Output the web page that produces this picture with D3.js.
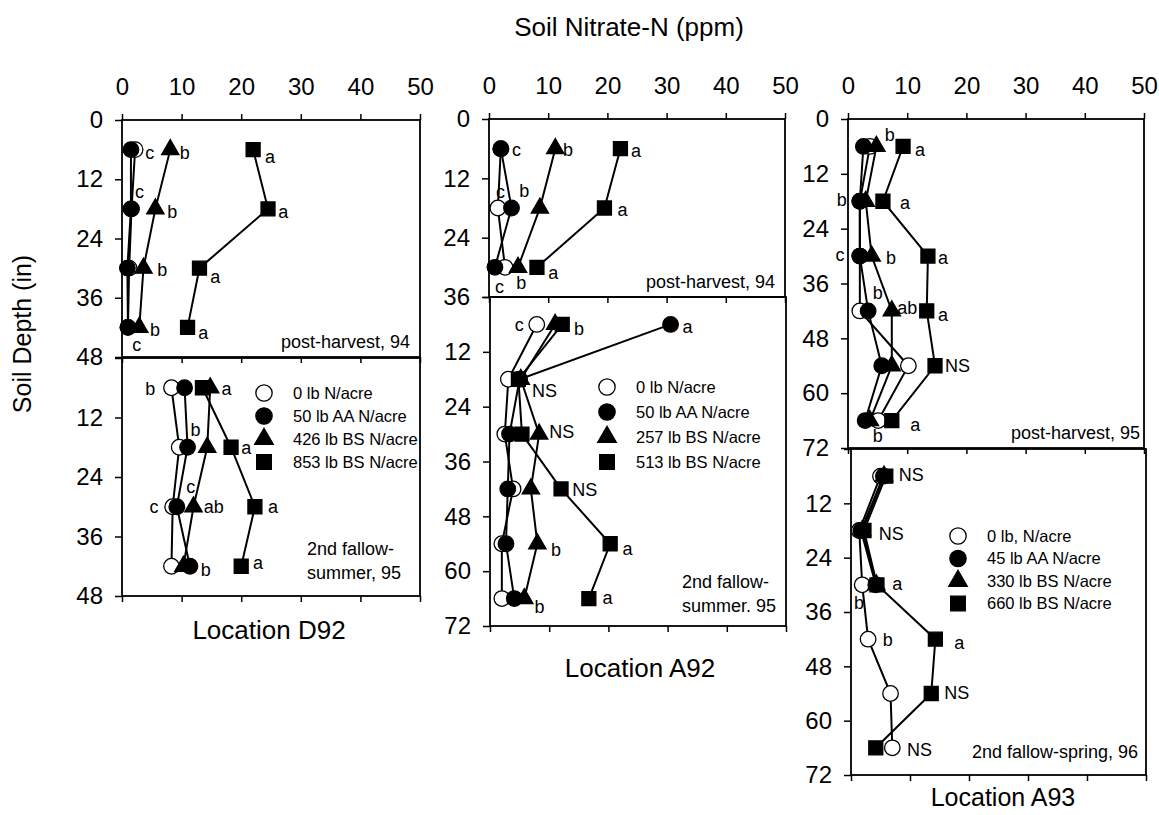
<!DOCTYPE html>
<html>
<head>
<meta charset="utf-8">
<script src="https://cdn.jsdelivr.net/npm/d3@7"></script>
<style>
  body { margin: 0; background: #fff; }
  text { font-family: "Liberation Sans", Arial, sans-serif; fill: #000; }
</style>
</head>
<body>
<svg id="chart" width="1159" height="815"></svg>
<script>
// depths (in) of the samples
const depth4 = [6, 18, 30, 42];
const depth3 = [6, 18, 30];
const depth6 = [6, 18, 30, 42, 54, 66];
const xTicks = [0, 10, 20, 30, 40, 50];

// nitrate-N (ppm) per treatment: [0 lb, AA, low BS, high BS]
const d92Harvest94 = [
  [2.2, 1.6, 1.2, 1.0],
  [1.5, 1.5, 0.9, 1.0],
  [8.1, 5.6, 3.6, 2.9],
  [22, 24.5, 13, 11]
];
const d92Summer95 = [
  [8.3, 9.6, 8.5, 8.3],
  [10.5, 11, 9.2, 11.4],
  [14.8, 14.3, 12, 10.3],
  [13.5, 18.3, 22.3, 20]
];
const a92Harvest94 = [
  [2.0, 1.5, 2.7],
  [2.0, 3.8, 1.0],
  [11.2, 8.6, 4.9],
  [22.2, 19.5, 8.1]
];
const a92Summer95 = [
  [7.9, 3.1, 2.5, 3.9, 2.0, 2.0],
  [30.5, 5.0, 3.3, 3.0, 2.7, 4.1],
  [11, 5.2, 8.3, 6.9, 8, 5.8],
  [12.2, 4.8, 5.4, 12, 20.3, 16.7]
];
const a93Harvest95 = [
  [3.7, 2.0, 2.0, 2.0, 10.2, 5.1],
  [2.6, 2.0, 2.0, 3.4, 5.7, 2.9],
  [4.8, 3.0, 4.0, 7.4, 7.4, 3.7],
  [9.3, 5.9, 13.5, 13.3, 14.7, 7.4]
];
const a93Spring96 = [
  [5.0, 1.4, 1.9, 2.9, 6.7, 7.0],
  [5.5, 1.7, 4.2, null, null, null],
  [5.6, 1.9, 4.3, null, null, null],
  [5.9, 2.2, 4.4, 14.3, 13.6, 4.2]
];

// significance letters: [ppm, depth, text]
const lettersD92a = [[3.9, 6.7, "c"], [9.7, 6.7, "b"], [24, 7.5, "a"], [2.2, 14.6, "c"], [7.6, 18.6, "b"],
  [26.2, 18.6, "a"], [5.9, 30.4, "b"], [14.8, 31.8, "a"], [4.7, 42.5, "b"], [12.8, 43, "a"], [1.7, 45.5, "c"]];
const lettersD92b = [[3.9, 6.2, "b"], [16.7, 6.2, "a"], [11.5, 14.5, "b"], [20, 18, "a"], [10.8, 26, "c"],
  [4.6, 30, "c"], [13.7, 30, "ab"], [24.5, 30, "a"], [22, 41.3, "a"], [13.2, 42.7, "b"]];
const lettersA92a = [[3.9, 6.3, "c"], [12.5, 6.3, "b"], [24, 6.5, "a"], [1.2, 14.8, "c"], [5.1, 14.4, "b"],
  [21.7, 18.4, "a"], [10, 31, "a"], [1, 34, "c"], [4.6, 33.2, "b"]];
const lettersA92b = [[4.2, 6.1, "c"], [14.2, 7, "b"], [32.5, 6.6, "a"], [7.1, 20.4, "NS"], [10, 29.5, "NS"],
  [13.9, 42.2, "NS"], [10.3, 55.4, "b"], [22.4, 55, "a"], [7.5, 67.8, "b"], [19, 65.9, "a"]];
const lettersA93a = [[6.2, 3.5, "b"], [11.3, 6.8, "a"], [-1.9, 17.7, "b"], [8.8, 18.3, "a"], [-2.1, 29.8, "c"],
  [6.4, 30.4, "b"], [15.2, 30.4, "a"], [4.2, 38, "b"], [8.3, 41.4, "ab"], [15.2, 42.9, "a"],
  [16.4, 54, "NS"], [10.5, 67, "a"], [4.2, 69.4, "b"]];
const lettersA93b = [[8.1, 5.7, "NS"], [4.7, 18.8, "NS"], [7, 29.8, "a"], [0.5, 34, "b"], [5.4, 42.2, "b"],
  [17.5, 42.8, "a"], [15.8, 53.9, "NS"], [9.5, 66.4, "NS"]];

const legendD92 = ["0 lb N/acre", "50 lb AA N/acre", "426 lb BS N/acre", "853 lb BS N/acre"];
const legendA92 = ["0 lb N/acre", "50 lb AA N/acre", "257 lb BS N/acre", "513 lb BS N/acre"];
const legendA93 = ["0 lb, N/acre", "45 lb AA N/acre", "330 lb BS N/acre", "660 lb BS N/acre"];

// marker styles per treatment
const symType = [d3.symbolCircle, d3.symbolCircle, d3.symbolTriangle, d3.symbolSquare];
const symSize = [190, 190, 130, 195];
const symFill = ["#fff", "#000", "#000", "#000"];

const svg = d3.select("#chart");

const panels = [
  { data: d92Harvest94, depths: depth4, maxD: 48, box: [122, 420, 120, 357], top: true,
    letters: lettersD92a, note: ["post-harvest, 94"], noteX: 410, noteY: 348, noteAnchor: "end" },
  { data: d92Summer95, depths: depth4, maxD: 48, box: [122, 420, 358, 596], top: false,
    letters: lettersD92b, note: ["2nd fallow-", "summer, 95"], noteX: 307, noteY: 555, noteAnchor: "start",
    legend: legendD92, legX: 264, legY: 393, legStep: 23 },
  { data: a92Harvest94, depths: depth3, maxD: 36, box: [489, 785, 119, 297], top: true,
    letters: lettersA92a, note: ["post-harvest, 94"], noteX: 775, noteY: 288, noteAnchor: "end" },
  { data: a92Summer95, depths: depth6, maxD: 72, box: [490, 786, 297, 626], top: false,
    letters: lettersA92b, note: ["2nd fallow-", "summer. 95"], noteX: 682, noteY: 588, noteAnchor: "start",
    legend: legendA92, legX: 607, legY: 387, legStep: 25 },
  { data: a93Harvest95, depths: depth6, maxD: 72, box: [848, 1144, 119, 448], top: true,
    letters: lettersA93a, note: ["post-harvest, 95"], noteX: 1140, noteY: 439, noteAnchor: "end" },
  { data: a93Spring96, depths: depth6, maxD: 72, box: [851, 1146, 449, 775], top: false,
    letters: lettersA93b, note: ["2nd fallow-spring, 96"], noteX: 1138, noteY: 758, noteAnchor: "end",
    legend: legendA93, legX: 958, legY: 536, legStep: 22.5 }
];

panels.forEach(function (p) {
  const x = d3.scaleLinear().domain([0, 50]).range([p.box[0], p.box[1]]);
  const y = d3.scaleLinear().domain([0, p.maxD]).range([p.box[2], p.box[3]]);
  const g = svg.append("g");
  const yTicks = d3.range(0, p.maxD + 1, 12);

  // axes
  if (p.top) {
    const ax = g.append("g")
      .attr("transform", "translate(0," + p.box[2] + ")")
      .call(d3.axisTop(x).tickValues(xTicks).tickSize(6).tickPadding(19));
    ax.select(".domain").remove();
    ax.selectAll("text").style("font-size", "24px");
  }
  const bx = g.append("g")
    .attr("transform", "translate(0," + p.box[3] + ")")
    .call(d3.axisBottom(x).tickValues(xTicks).tickSize(6).tickFormat(""));
  bx.select(".domain").remove();

  const ay = g.append("g")
    .attr("transform", "translate(" + p.box[0] + ",0)")
    .call(d3.axisLeft(y).tickValues(yTicks).tickSize(7).tickPadding(12)
      .tickFormat(function (d) { return (!p.top && d === 0) ? "" : d; }));
  ay.select(".domain").remove();
  ay.selectAll("text").style("font-size", "24px");
  g.selectAll(".tick line").attr("stroke", "#000").attr("stroke-width", 1.5);

  // frame
  g.append("rect")
    .attr("x", p.box[0]).attr("y", p.box[2])
    .attr("width", p.box[1] - p.box[0]).attr("height", p.box[3] - p.box[2])
    .attr("fill", "none").attr("stroke", "#000").attr("stroke-width", 1.8);

  // profiles
  const line = d3.line()
    .defined(function (d) { return d[0] != null; })
    .x(function (d) { return x(d[0]); })
    .y(function (d) { return y(d[1]); });

  p.data.forEach(function (vals) {
    const pts = vals.map(function (v, i) { return [v, p.depths[i]]; });
    g.append("path").datum(pts)
      .attr("d", line)
      .attr("fill", "none").attr("stroke", "#000").attr("stroke-width", 2);
  });

  p.data.forEach(function (vals, s) {
    const pts = vals.map(function (v, i) { return [v, p.depths[i]]; })
      .filter(function (d) { return d[0] != null; });
    g.selectAll(null).data(pts).enter()
      .append("path")
      .attr("d", d3.symbol().type(symType[s]).size(symSize[s]))
      .attr("transform", function (d) { return "translate(" + x(d[0]) + "," + y(d[1]) + ")"; })
      .attr("fill", symFill[s]).attr("stroke", "#000").attr("stroke-width", 1.3);
  });

  // letters
  g.selectAll(null).data(p.letters).enter()
    .append("text")
    .attr("x", function (d) { return x(d[0]); })
    .attr("y", function (d) { return y(d[1]); })
    .attr("dy", "0.35em")
    .style("font-size", "18px")
    .text(function (d) { return d[2]; });

  // panel note
  p.note.forEach(function (t, i) {
    g.append("text")
      .attr("x", p.noteX).attr("y", p.noteY + i * 24)
      .attr("text-anchor", p.noteAnchor)
      .style("font-size", "18px")
      .text(t);
  });

  // legend
  if (p.legend) {
    p.legend.forEach(function (t, s) {
      const ly = p.legY + s * p.legStep;
      g.append("path")
        .attr("d", d3.symbol().type(symType[s]).size(symSize[s] + 20))
        .attr("transform", "translate(" + p.legX + "," + ly + ")")
        .attr("fill", symFill[s]).attr("stroke", "#000").attr("stroke-width", 1.3);
      g.append("text")
        .attr("x", p.legX + 29).attr("y", ly).attr("dy", "0.35em")
        .style("font-size", "16.5px")
        .text(t);
    });
  }
});

// titles
svg.append("text").attr("x", 629).attr("y", 36).attr("text-anchor", "middle")
  .style("font-size", "26px").text("Soil Nitrate-N (ppm)");
svg.append("text").attr("transform", "translate(31,334) rotate(-90)").attr("text-anchor", "middle")
  .style("font-size", "25px").text("Soil Depth (in)");
svg.append("text").attr("x", 269).attr("y", 639).attr("text-anchor", "middle")
  .style("font-size", "26px").text("Location D92");
svg.append("text").attr("x", 640).attr("y", 677).attr("text-anchor", "middle")
  .style("font-size", "26px").text("Location A92");
svg.append("text").attr("x", 1003).attr("y", 806).attr("text-anchor", "middle")
  .style("font-size", "25px").text("Location A93");
</script>
</body>
</html>
